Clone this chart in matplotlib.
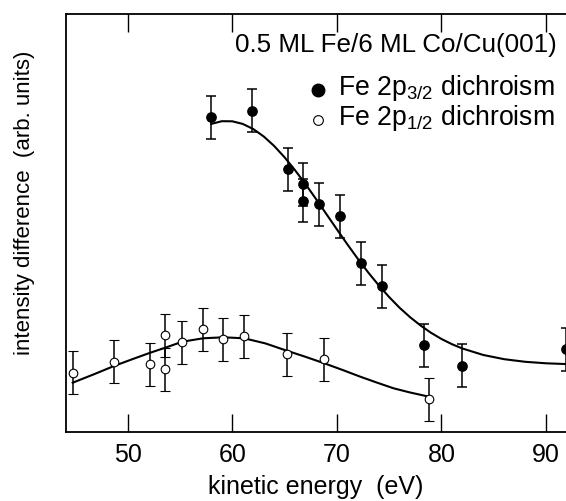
import matplotlib
matplotlib.use("Agg")
import matplotlib.pyplot as plt

plt.rcParams["font.family"] = ["Liberation Sans", "DejaVu Sans"]
plt.rcParams["mathtext.default"] = "regular"

# Fe 2p3/2 dichroism (filled) -- kinetic energy (eV), intensity (arb. units)
p32_x = [57.94, 61.86, 65.33, 66.77, 66.77, 68.27, 70.33, 72.31, 74.32, 78.33, 81.93, 91.87]
p32_y = [3.147, 3.213, 2.630, 2.480, 2.313, 2.280, 2.160, 1.690, 1.457, 0.867, 0.663, 0.827]
p32_err = [0.215] * 12

# Fe 2p1/2 dichroism (open)
p12_x = [44.75, 48.70, 52.17, 53.60, 53.60, 55.23, 57.21, 59.15, 61.15, 65.21, 68.80, 78.81]
p12_y = [0.593, 0.703, 0.677, 0.970, 0.627, 0.897, 1.030, 0.930, 0.960, 0.780, 0.727, 0.327]
p12_err = [0.215] * 12

# fit curves
fit32_x = [58, 59, 60, 61, 62, 63, 64, 65, 66, 67, 68, 69, 70, 71, 72, 73, 74, 75, 76, 77,
           78, 79, 80, 81, 82, 84, 86, 88, 90, 92]
fit32_y = [3.081, 3.108, 3.107, 3.081, 3.030, 2.956, 2.861, 2.747, 2.618, 2.479, 2.331, 2.179,
           2.027, 1.877, 1.732, 1.595, 1.467, 1.349, 1.242, 1.148, 1.065, 0.992, 0.930, 0.878,
           0.835, 0.770, 0.728, 0.702, 0.687, 0.679]
fit12_x = [44.75, 46.75, 48.70, 50.5, 52.17, 53.60, 55.23, 57.21, 59.15, 61.15, 63.2, 65.21,
           67.0, 68.80, 70.5, 72.24, 73.8, 75.42, 77.0, 78.81]
fit12_y = [0.493, 0.576, 0.660, 0.730, 0.793, 0.843, 0.903, 0.937, 0.947, 0.937, 0.885, 0.813,
           0.752, 0.687, 0.622, 0.553, 0.495, 0.437, 0.395, 0.353]

W, H = 566, 501
fig = plt.figure(figsize=(W / 100, H / 100), dpi=100)
ax = fig.add_axes([66 / W, (H - 432) / H, 500 / W, (432 - 14) / H])

ax.plot(fit32_x, fit32_y, color="k", lw=1.5, zorder=2)
ax.plot(fit12_x, fit12_y, color="k", lw=1.5, zorder=2)
ax.errorbar(p32_x, p32_y, yerr=p32_err, fmt="o", ms=6.7, mfc="k", mec="k",
            ecolor="k", elinewidth=1.1, capsize=3.5, capthick=1.1, zorder=3)
ax.errorbar(p12_x, p12_y, yerr=p12_err, fmt="o", ms=6.2, mfc="white", mec="k", mew=0.8,
            ecolor="k", elinewidth=1.1, capsize=3.5, capthick=1.1, zorder=3)

ax.set_xlim(44.11, 91.9)
ax.set_ylim(0, 4.18)
ax.set_xticks([50, 60, 70, 80, 90])
ax.set_yticks([])
ax.tick_params(axis="x", direction="in", length=13, width=1.0, top=True,
               labelsize=18, pad=8)
for s in ["left", "bottom", "top"]:
    ax.spines[s].set_linewidth(1.3)
ax.spines["right"].set_visible(False)
ax.set_xlabel("kinetic energy  (eV)", fontsize=18, labelpad=6)

fig.text(25 / W, 1 - 203 / H, "intensity difference  (arb. units)", rotation=90,
         ha="center", va="center", fontsize=16)

# legend block
fig.text(557 / W, 1 - 52 / H, "0.5 ML Fe/6 ML Co/Cu(001)", ha="right", va="baseline",
         fontsize=18.7)
ax.plot([318 / W], [1 - 90 / H], "o", ms=9, mfc="k", mec="k",
        transform=fig.transFigure, clip_on=False)
ax.plot([318 / W], [1 - 120 / H], "o", ms=7, mfc="white", mec="k", mew=0.8,
        transform=fig.transFigure, clip_on=False)
fig.text(338 / W, 1 - 95 / H, "Fe 2p$_{3/2}$ dichroism", ha="left", va="baseline",
         fontsize=19.2)
fig.text(338 / W, 1 - 125 / H, "Fe 2p$_{1/2}$ dichroism", ha="left", va="baseline",
         fontsize=19.2)

fig.savefig("out.png", dpi=100)
